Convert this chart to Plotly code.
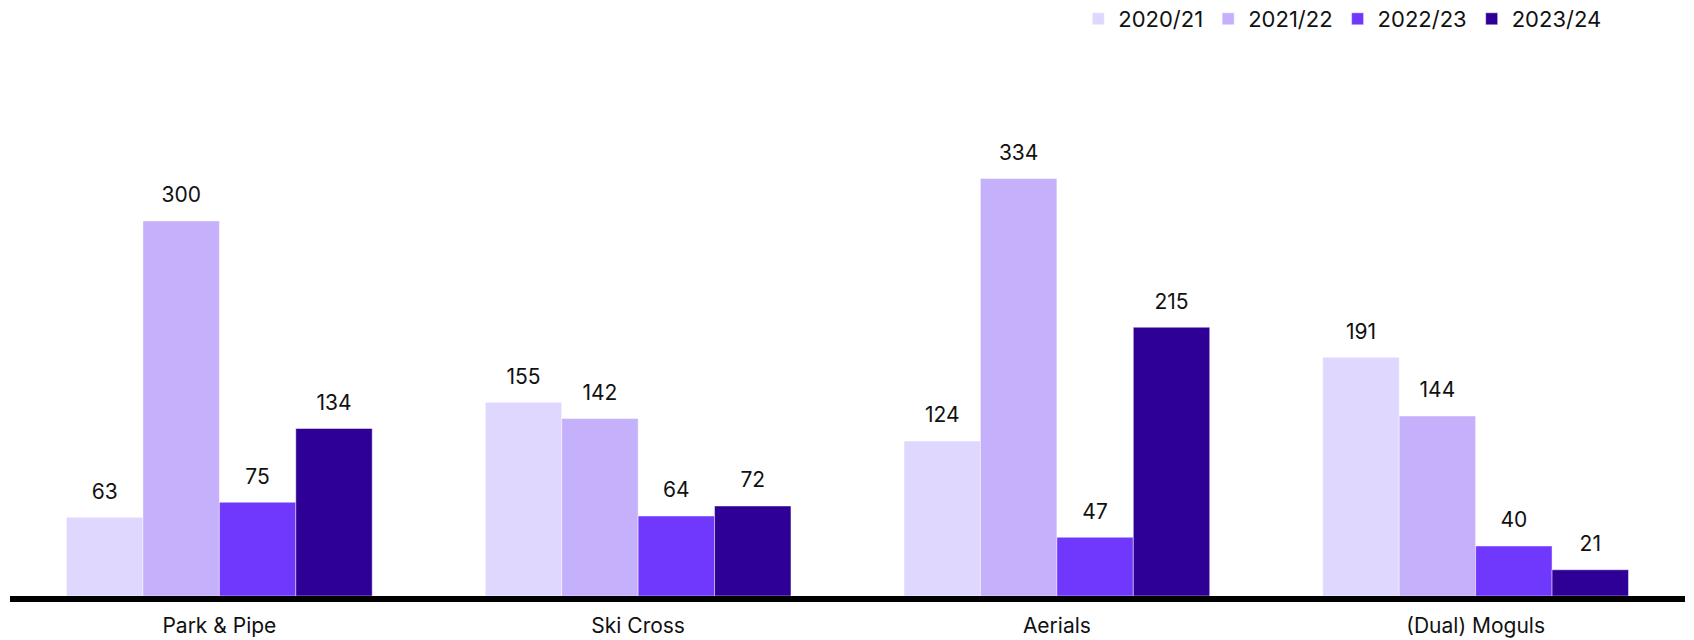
import plotly.graph_objects as go

categories = ["Park & Pipe", "Ski Cross", "Aerials", "(Dual) Moguls"]
seasons = ["2020/21", "2021/22", "2022/23", "2023/24"]
values_2020_21 = [63, 155, 124, 191]
values_2021_22 = [300, 142, 334, 144]
values_2022_23 = [75, 64, 47, 40]
values_2023_24 = [134, 72, 215, 21]
colors = ["#E0D7FE", "#C5B0FB", "#7038FD", "#2E0096"]

series = [values_2020_21, values_2021_22, values_2022_23, values_2023_24]
FONT = "Inter, Roboto, sans-serif"
FS = 21
GAP = 0.27

fig = go.Figure()
for name, vals, col in zip(seasons, series, colors):
    fig.add_trace(go.Bar(
        x=categories, y=vals, name=name, offsetgroup=name,
        marker=dict(color=col, line=dict(color="rgba(255,255,255,0.45)", width=1)),
        hoverinfo="x+y+name",
    ))

# value labels, grouped the same way as the bars
for name, vals in zip(seasons, series):
    fig.add_trace(go.Scatter(
        x=categories, y=vals, mode="markers+text", offsetgroup=name,
        text=[str(v) for v in vals], textposition="top center",
        textfont=dict(family=FONT, size=FS, color="#111111"),
        marker=dict(size=20, opacity=0),
        showlegend=False, hoverinfo="skip", cliponaxis=False,
    ))

fig.update_layout(
    width=1694, height=640,
    paper_bgcolor="white", plot_bgcolor="white",
    barmode="group", bargap=GAP, bargroupgap=0,
    scattermode="group", scattergap=GAP,
    margin=dict(l=10, r=9, t=60, b=44, autoexpand=False),
    font=dict(family=FONT, size=FS, color="#111111"),
    showlegend=True,
    legend=dict(
        orientation="h", x=0.953, xanchor="right", xref="paper",
        y=1.1157, yanchor="top", yref="paper",
        font=dict(family=FONT, size=22, color="#111111"),
        traceorder="normal", itemclick=False, itemdoubleclick=False,
    ),
    xaxis=dict(
        showline=True, linecolor="black", linewidth=6,
        showgrid=False, ticks="", ticklabelstandoff=6,
        tickfont=dict(family=FONT, size=FS, color="#111111"),
    ),
    yaxis=dict(
        range=[0, 536 / 1.25], visible=False, showgrid=False, zeroline=False,
    ),
)

fig.write_html("out.html")
